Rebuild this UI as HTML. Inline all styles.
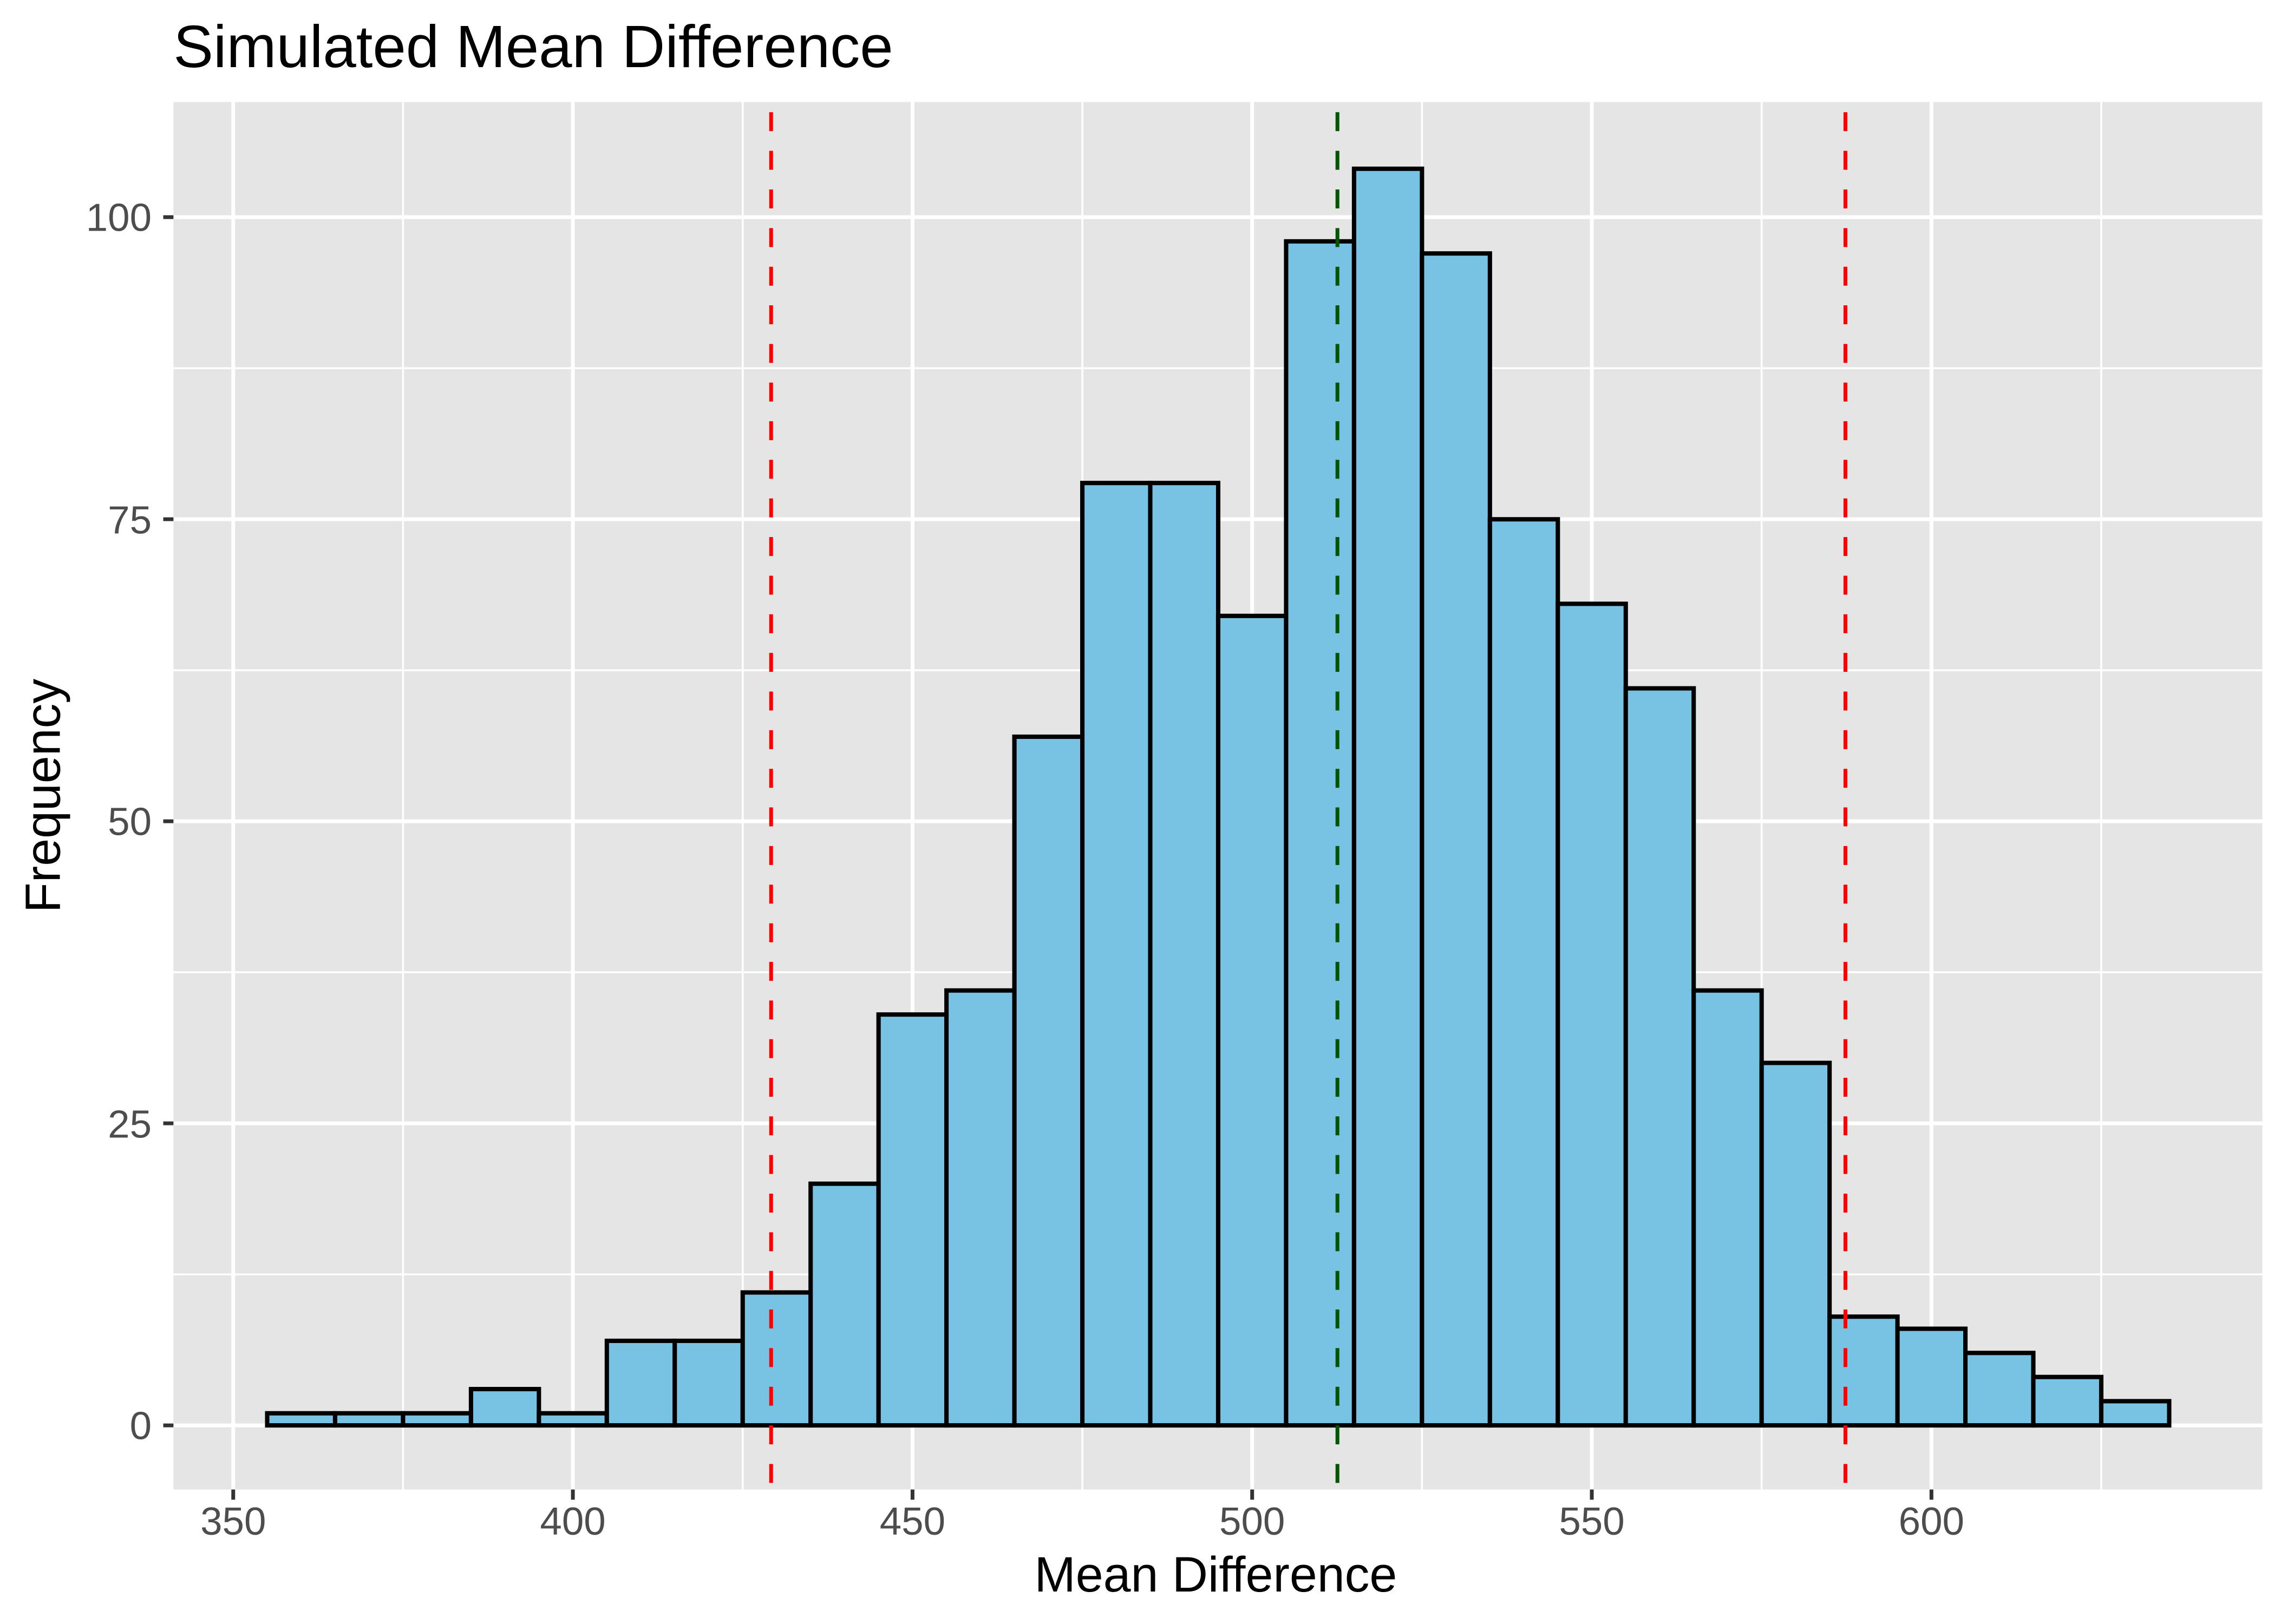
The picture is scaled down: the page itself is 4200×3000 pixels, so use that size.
<!DOCTYPE html>
<html><head><meta charset="utf-8"><style>html,body{margin:0;padding:0;background:#fff}svg{display:block}</style></head>
<body>
<svg width="4200" height="3000" viewBox="0 0 1560 1114.2857" xmlns="http://www.w3.org/2000/svg" font-family="Liberation Sans, Arial, sans-serif">
<rect width="1560" height="1114.3" fill="#fff"/>
<text x="119" y="46" font-size="41" fill="#000">Simulated Mean Difference</text>
<rect x="119" y="70" width="1433" height="952" fill="#e5e5e5"/>
<g stroke="#fff" stroke-width="1.3">
<line x1="119" x2="1552" y1="874.4" y2="874.4"/><line x1="119" x2="1552" y1="667.1" y2="667.1"/><line x1="119" x2="1552" y1="459.9" y2="459.9"/><line x1="119" x2="1552" y1="252.6" y2="252.6"/>
<line y1="70" y2="1022" x1="276.5" x2="276.5"/><line y1="70" y2="1022" x1="509.5" x2="509.5"/><line y1="70" y2="1022" x1="742.5" x2="742.5"/><line y1="70" y2="1022" x1="975.5" x2="975.5"/><line y1="70" y2="1022" x1="1208.5" x2="1208.5"/><line y1="70" y2="1022" x1="1441.5" x2="1441.5"/>
</g>
<g stroke="#fff" stroke-width="2.6">
<line x1="119" x2="1552" y1="978" y2="978"/><line x1="119" x2="1552" y1="770.75" y2="770.75"/><line x1="119" x2="1552" y1="563.5" y2="563.5"/><line x1="119" x2="1552" y1="356.25" y2="356.25"/><line x1="119" x2="1552" y1="149" y2="149"/>
<line y1="70" y2="1022" x1="160" x2="160"/><line y1="70" y2="1022" x1="393" x2="393"/><line y1="70" y2="1022" x1="626" x2="626"/><line y1="70" y2="1022" x1="859" x2="859"/><line y1="70" y2="1022" x1="1092" x2="1092"/><line y1="70" y2="1022" x1="1325" x2="1325"/>
</g>
<g stroke="#333" stroke-width="2.6">
<line x1="112" x2="119" y1="978" y2="978"/><line x1="112" x2="119" y1="770.75" y2="770.75"/><line x1="112" x2="119" y1="563.5" y2="563.5"/><line x1="112" x2="119" y1="356.25" y2="356.25"/><line x1="112" x2="119" y1="149" y2="149"/>
<line y1="1022" y2="1029" x1="160" x2="160"/><line y1="1022" y2="1029" x1="393" x2="393"/><line y1="1022" y2="1029" x1="626" x2="626"/><line y1="1022" y2="1029" x1="859" x2="859"/><line y1="1022" y2="1029" x1="1092" x2="1092"/><line y1="1022" y2="1029" x1="1325" x2="1325"/>
</g>
<g font-size="27" fill="#4d4d4d" text-anchor="end">
<text x="104" y="987.5">0</text><text x="104" y="780.5">25</text><text x="104" y="573">50</text><text x="104" y="366">75</text><text x="104" y="158.5">100</text>
</g>
<g font-size="27" fill="#4d4d4d" text-anchor="middle">
<text x="160" y="1053">350</text><text x="393" y="1053">400</text><text x="626" y="1053">450</text><text x="859" y="1053">500</text><text x="1092" y="1053">550</text><text x="1325" y="1053">600</text>
</g>
<text x="834" y="1092" font-size="34" text-anchor="middle" fill="#000">Mean Difference</text>
<text transform="translate(41,546) rotate(-90)" font-size="34" text-anchor="middle" fill="#000">Frequency</text>
<g fill="#78c2e4" stroke="#000" stroke-width="3">
<rect x="183.3" y="969.7" width="46.6" height="8.3"/>
<rect x="229.9" y="969.7" width="46.6" height="8.3"/>
<rect x="276.5" y="969.7" width="46.6" height="8.3"/>
<rect x="323.1" y="953.1" width="46.6" height="24.9"/>
<rect x="369.7" y="969.7" width="46.6" height="8.3"/>
<rect x="416.3" y="920.0" width="46.6" height="58.0"/>
<rect x="462.9" y="920.0" width="46.6" height="58.0"/>
<rect x="509.5" y="886.8" width="46.6" height="91.2"/>
<rect x="556.1" y="812.2" width="46.6" height="165.8"/>
<rect x="602.7" y="696.1" width="46.6" height="281.9"/>
<rect x="649.3" y="679.6" width="46.6" height="298.4"/>
<rect x="695.9" y="505.5" width="46.6" height="472.5"/>
<rect x="742.5" y="331.4" width="46.6" height="646.6"/>
<rect x="789.1" y="331.4" width="46.6" height="646.6"/>
<rect x="835.7" y="422.6" width="46.6" height="555.4"/>
<rect x="882.3" y="165.6" width="46.6" height="812.4"/>
<rect x="928.9" y="115.8" width="46.6" height="862.2"/>
<rect x="975.5" y="173.9" width="46.6" height="804.1"/>
<rect x="1022.1" y="356.3" width="46.6" height="621.7"/>
<rect x="1068.7" y="414.3" width="46.6" height="563.7"/>
<rect x="1115.3" y="472.3" width="46.6" height="505.7"/>
<rect x="1161.9" y="679.6" width="46.6" height="298.4"/>
<rect x="1208.5" y="729.3" width="46.6" height="248.7"/>
<rect x="1255.1" y="903.4" width="46.6" height="74.6"/>
<rect x="1301.7" y="911.7" width="46.6" height="66.3"/>
<rect x="1348.3" y="928.3" width="46.6" height="49.7"/>
<rect x="1394.9" y="944.8" width="46.6" height="33.2"/>
<rect x="1441.5" y="961.4" width="46.6" height="16.6"/>
</g>
<g stroke-width="2.6" stroke-dasharray="13,13.5">
<line x1="529" x2="529" y1="77" y2="1022" stroke="#ff0000"/>
<line x1="1266" x2="1266" y1="77" y2="1022" stroke="#ff0000"/>
<line x1="917.5" x2="917.5" y1="77" y2="1022" stroke="#005500"/>
</g>
</svg>
</body></html>
